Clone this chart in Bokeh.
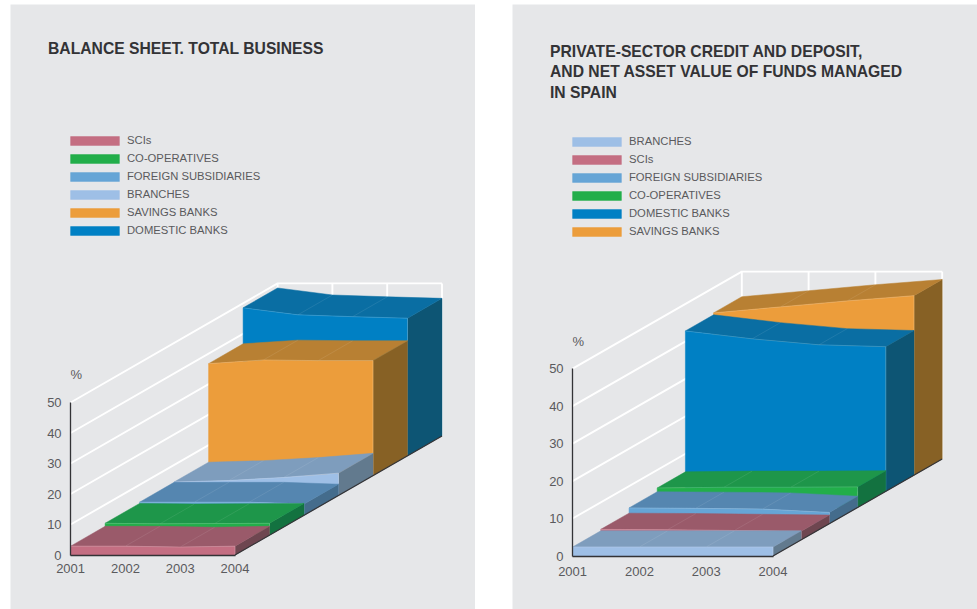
from bokeh.plotting import figure
from bokeh.layouts import row
from bokeh.models import FixedTicker, Legend, LegendItem, Range1d
from bokeh.core.properties import value
from bokeh.embed import file_html
from bokeh.resources import INLINE

years = [2001, 2002, 2003, 2004]
y_ticks = [0, 10, 20, 30, 40, 50]

# Left chart: share of total business, %  (front to back)
left_names = ["SCIs", "CO-OPERATIVES", "FOREIGN SUBSIDIARIES", "BRANCHES", "SAVINGS BANKS", "DOMESTIC BANKS"]
left_scis = [2.9, 2.9, 2.6, 2.9]
left_coops = [3.9, 3.7, 3.8, 3.9]
left_foreign = [4.3, 4.3, 4.3, 3.7]
left_branches = [4.4, 4.9, 5.9, 7.3]
left_savings = [36.7, 37.9, 37.7, 37.7]
left_domestic = [48.5, 46.2, 45.6, 45.1]
left_series = [left_scis, left_coops, left_foreign, left_branches, left_savings, left_domestic]

# Right chart: share of credit, deposits and funds, %  (front to back)
right_names = ["BRANCHES", "SCIs", "FOREIGN SUBSIDIARIES", "CO-OPERATIVES", "DOMESTIC BANKS", "SAVINGS BANKS"]
right_branches = [2.4, 2.4, 2.4, 2.4]
right_scis = [2.8, 2.7, 2.5, 2.3]
right_foreign = [4.2, 4.1, 3.9, 3.0]
right_coops = [5.2, 5.4, 5.4, 5.5]
right_domestic = [42.8, 40.7, 39.1, 38.6]
right_savings = [43.3, 44.9, 46.5, 47.9]
right_series = [right_branches, right_scis, right_foreign, right_coops, right_domestic, right_savings]

FACE = {  # front, top, side
    "SCIs": ("#C46E82", "#9A5A6A", "#6E4650"),
    "CO-OPERATIVES": ("#22AE4A", "#1E964A", "#137240"),
    "FOREIGN SUBSIDIARIES": ("#66A5D6", "#5586B0", "#446C8C"),
    "BRANCHES": ("#9EBFE6", "#7E9DBD", "#627A8E"),
    "SAVINGS BANKS": ("#EC9D3B", "#B88033", "#876125"),
    "DOMESTIC BANKS": ("#0080C4", "#0A6EA3", "#0D5574"),
}
BG = "#E6E7E9"
INK = "#5A5A5D"
SANS = "Liberation Sans"
PANEL_W, PANEL_H, PANEL_TOP = 465, 605, 4


def chart(names, series, title_lines, panel_left, ox, oy, px_year, px_pct, dx_px, dy_px,
          title_y, legend_top, pct_xy, x_standoff, y_standoff):
    x0 = (panel_left - ox) / px_year
    y0 = (oy - (PANEL_TOP + PANEL_H)) / px_pct
    p = figure(width=PANEL_W, height=PANEL_H, output_backend="svg", toolbar_location=None,
               x_range=Range1d(years[0] + x0, years[0] + x0 + PANEL_W / px_year),
               y_range=Range1d(y0, y0 + PANEL_H / px_pct),
               background_fill_color=BG, border_fill_color=BG, outline_line_color=None,
               min_border=0)
    p.grid.visible = False
    dx, dy = dx_px / px_year, dy_px / px_pct  # one series of depth, in data units
    n = len(series)

    def X(year, depth):
        return year + depth * dx

    def Y(val, depth):
        return val + depth * dy

    def fx(px):
        return years[0] + (px - ox) / px_year

    def fy(py):
        return (oy - py) / px_pct

    # walls
    wx, wy = [], []
    for t in y_ticks[1:]:
        wx.append([X(years[0], 0), X(years[0], n), X(years[-1], n)])
        wy.append([Y(t, 0), Y(t, n), Y(t, n)])
    for yr in years:
        wx.append([X(yr, n), X(yr, n)])
        wy.append([Y(0, n), Y(50, n)])
    p.multi_line(wx, wy, line_color="white", line_width=1.9)

    # solids, back to front
    items = {}
    for d in range(n - 1, -1, -1):
        name, vals = names[d], series[d]
        front, top, side = FACE[name]
        # right side
        p.patch([X(years[-1], d), X(years[-1], d + 1), X(years[-1], d + 1), X(years[-1], d)],
                [Y(0, d), Y(0, d + 1), Y(vals[-1], d + 1), Y(vals[-1], d)],
                fill_color=side, line_color=side, line_width=0.5)
        # top
        p.patch([X(v, d) for v in years] + [X(v, d + 1) for v in years[::-1]],
                [Y(v, d) for v in vals] + [Y(v, d + 1) for v in vals[::-1]],
                fill_color=top, line_color=top, line_width=0.5)
        # grid seams on the top
        p.multi_line([[X(v, d), X(v, d + 1)] for v in years[1:-1]],
                     [[Y(u, d), Y(u, d + 1)] for u in vals[1:-1]],
                     line_color="#FFFFFF", line_alpha=0.15, line_width=0.6)
        # front
        r = p.patch([X(v, d) for v in years] + [X(years[-1], d), X(years[0], d)],
                    [Y(v, d) for v in vals] + [Y(0, d), Y(0, d)],
                    fill_color=front, line_color=front, line_width=0.5)
        items[name] = r
        # pale arrises
        p.line([X(v, d) for v in years], [Y(v, d) for v in vals],
               line_color="#FFFFFF", line_alpha=0.22, line_width=0.7)
        p.line([X(years[-1], d), X(years[-1], d)], [Y(0, d), Y(vals[-1], d)],
               line_color="#FFFFFF", line_alpha=0.3, line_width=0.7)

    # floor edge on the right
    p.line([X(years[-1], 0), X(years[-1], n)], [Y(0, 0), Y(0, n)], line_color="#333336", line_width=1.2)

    # real axes placed at the chart's origin
    p.xaxis.fixed_location = 0
    p.yaxis.fixed_location = years[0]
    p.xaxis.ticker = FixedTicker(ticks=years)
    p.yaxis.ticker = FixedTicker(ticks=y_ticks)
    p.xaxis.major_label_overrides = {yr: str(yr) for yr in years}
    p.xaxis.bounds = (years[0], years[-1])
    p.yaxis.bounds = (0, 50)
    for ax, st in ((p.xaxis, x_standoff), (p.yaxis, y_standoff)):
        ax.axis_line_color = "#333336"
        ax.axis_line_width = 1.3
        ax.major_tick_line_color = None
        ax.minor_tick_line_color = None
        ax.major_label_text_font = SANS
        ax.major_label_text_font_size = "13px"
        ax.major_label_text_color = INK
        ax.major_label_standoff = st

    # title and % mark
    p.text([fx(panel_left + 37.5)] * len(title_lines),
           [fy(v) for v in title_y], text=title_lines,
           text_font=value(SANS), text_font_size="15.7px", text_font_style="bold",
           text_color="#333336", text_baseline="middle")
    p.text([fx(pct_xy[0])], [fy(pct_xy[1])], text=["%"], text_font=value(SANS),
           text_font_size="13px", text_color=INK, text_baseline="middle")

    # legend (Bokeh insets an area swatch by 10% on each side)
    leg = Legend(items=[LegendItem(label=value(nm), renderers=[items[nm]]) for nm in names],
                 location=(54, PANEL_H - (legend_top - PANEL_TOP) - 6 * 18),
                 orientation="vertical", glyph_width=61, glyph_height=11, label_height=18,
                 label_standoff=2, spacing=0, padding=0, margin=0,
                 background_fill_alpha=0, border_line_color=None,
                 label_text_font=SANS, label_text_font_size="11.25px", label_text_color=INK,
                 click_policy="none")
    p.add_layout(leg)
    return p


p1 = chart(left_names, left_series, ["BALANCE SHEET. TOTAL BUSINESS"],
           10, 70.1, 554.5, 54.8, 3.05, 34.5, 19.85, [48], 131, (70, 374), 3, 3)
p2 = chart(right_names, right_series,
           ["PRIVATE-SECTOR CREDIT AND DEPOSIT,", "AND NET ASSET VALUE OF FUNDS MANAGED", "IN SPAIN"],
           512, 572.1, 555.5, 66.8, 3.747, 28.2, 16.17, [51, 71, 92], 132, (572, 341), 5, 3)

page = row(p1, p2, spacing=37, margin=(4, 0, 0, 10))
open("out.html", "w").write(file_html(page, INLINE))
